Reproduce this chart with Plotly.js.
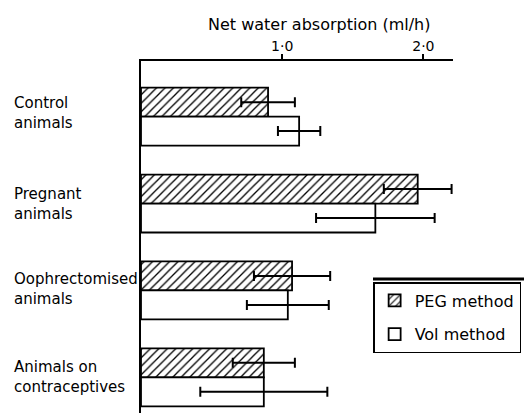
<!DOCTYPE html>
<html>
<head>
<meta charset="utf-8">
<script src="https://cdn.plot.ly/plotly-3.0.1.min.js"></script>
<style>html,body{margin:0;padding:0;background:#fff;}#chart{width:524px;height:413px;}</style>
</head>
<body>
<div id="chart"></div>
<script>
var categories = ["Control\nanimals", "Pregnant\nanimals", "Oophrectomised\nanimals", "Animals on\ncontraceptives"];
var categoryLabels = ["Control<br>animals", "Pregnant<br>animals", "Oophrectomised<br>animals", "Animals on<br>contraceptives"];
var pegValues = [0.90, 1.96, 1.07, 0.87];
var pegErrors = [0.19, 0.24, 0.27, 0.22];
var volValues = [1.12, 1.66, 1.04, 0.87];
var volErrors = [0.15, 0.42, 0.29, 0.45];
var tickValues = [1, 2];
var tickLabels = ["1·0", "2·0"];
var seriesNames = ["PEG method", "Vol method"];
var axisTitle = "Net water absorption (ml/h)";

var FONT = "'DejaVu Sans', Verdana, sans-serif";

var errStyle = {type: "data", visible: true, color: "#000", thickness: 2, width: 5};

var traces = [
  {
    type: "bar", orientation: "h", name: seriesNames[0], legendgroup: "a",
    y: categories, x: pegValues,
    error_x: Object.assign({array: pegErrors}, errStyle),
    marker: {color: "#fff", line: {color: "#000", width: 1.8},
      pattern: {shape: "/", fgcolor: "#000", bgcolor: "#fff", size: 6, solidity: 0.22}}
  },
  {
    type: "bar", orientation: "h", name: seriesNames[1], legendgroup: "b",
    y: categories, x: volValues,
    error_x: Object.assign({array: volErrors}, errStyle),
    marker: {color: "#fff", line: {color: "#000", width: 1.8}}
  }
];

var yShifts = [4, 0, 1, 0];
var annotations = categoryLabels.map(function (t, i) {
  return {text: t, xref: "paper", yref: "y", x: -0.413, y: categories[i], xanchor: "left",
    yanchor: "middle", align: "left", showarrow: false, yshift: yShifts[i],
    font: {family: FONT, size: 15, color: "#000"}};
});
annotations.push({text: axisTitle,
  xref: "paper", yref: "paper", x: 0.571, y: 1.105,
  xanchor: "center", yanchor: "middle", showarrow: false,
  font: {family: FONT, size: 16, color: "#000"}});

var layout = {
  width: 524, height: 413,
  margin: {l: 141, r: 71, t: 61, b: 0, pad: 0},
  paper_bgcolor: "#fff", plot_bgcolor: "#fff",
  font: {family: FONT, size: 15, color: "#000"},
  barmode: "group", bargap: 0.333, bargroupgap: 0,
  showlegend: true,
  legend: {x: 0.744, y: 1 - (282 - 61) / 352, xanchor: "left", yanchor: "top",
    bordercolor: "#000", borderwidth: 1.5, bgcolor: "#fff",
    tracegroupgap: 10, font: {family: FONT, size: 16, color: "#000"}},
  xaxis: {side: "top", range: [0, 2.21], showline: true, linecolor: "#000", linewidth: 2,
    ticks: "outside", ticklen: 5, tickwidth: 2, tickcolor: "#000",
    tickvals: tickValues, ticktext: tickLabels, showgrid: false, zeroline: false,
    ticklabelstandoff: -3,
    tickfont: {family: FONT, size: 14, color: "#000"}},
  yaxis: {range: [3.41, -0.64], showline: true, linecolor: "#000", linewidth: 2.5,
    showticklabels: false, ticks: "", showgrid: false, zeroline: false},
  annotations: annotations,
  shapes: [{type: "line", xref: "paper", yref: "paper",
    x0: (373 - 141) / 312, x1: (524 - 141) / 312,
    y0: 1 - (279 - 61) / 352, y1: 1 - (279 - 61) / 352,
    line: {color: "#000", width: 3}}]
};

Plotly.newPlot("chart", traces, layout, {staticPlot: true, displayModeBar: false});
</script>
</body>
</html>
